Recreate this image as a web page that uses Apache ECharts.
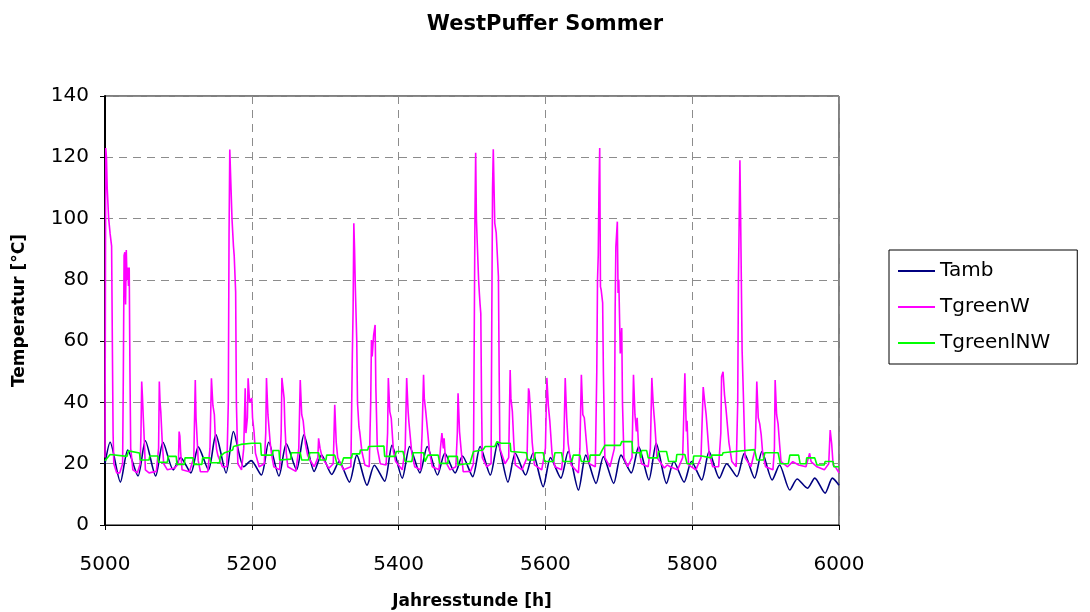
<!DOCTYPE html>
<html><head><meta charset="utf-8">
<script src="https://cdn.jsdelivr.net/npm/echarts@6/dist/echarts.min.js"></script>
<style>html,body{margin:0;padding:0;background:#fff}#c{width:1090px;height:612px}</style>
</head><body><div id="c"></div>
<script>
const titleText = 'WestPuffer Sommer';
const xName = 'Jahresstunde [h]';
const yName = 'Temperatur [°C]';
const seriesNames = ['Tamb', 'TgreenW', 'TgreenlNW'];
const xMin = 5000, xMax = 6000, xStep = 200;
const yMin = 0, yMax = 140, yStep = 20;

// [Jahresstunde, °C]
const tamb = [[5000,20],[5007,27],[5021,14],[5031,24.5],[5045,16],[5055,27.5],[5069,16],[5079,27],[5093,18],[5103,22],[5117,17],[5127,25.5],[5141,18],[5151,29.5],[5165,17],[5175,30.5],[5189,19],[5199,21],[5213,16.3],[5223,27],[5237,16],[5247,26.5],[5261,18],[5271,29.4],[5285,17.5],[5295,22.8],[5309,16.5],[5319,20.7],[5333,14],[5343,22.8],[5357,13],[5367,19.5],[5381,14.3],[5391,26],[5405,15.3],[5415,25.6],[5429,17],[5439,25.6],[5453,16.3],[5463,23.4],[5477,17],[5487,22.5],[5501,15.8],[5511,25.6],[5525,16.3],[5535,26.7],[5549,14],[5559,23.4],[5573,16.3],[5583,23.4],[5597,12.5],[5607,22],[5621,15.3],[5631,24],[5645,11.4],[5655,22.8],[5669,13.6],[5679,22.3],[5693,13.6],[5703,22.8],[5717,17],[5727,25.6],[5741,14.7],[5751,26.7],[5765,13.6],[5775,20.7],[5789,14],[5799,20.7],[5813,14.7],[5823,24],[5837,15.3],[5847,20],[5861,15.8],[5871,23.4],[5885,15.3],[5895,24],[5909,14.7],[5919,19.6],[5933,11.4],[5943,15],[5957,12],[5967,15.3],[5981,10.4],[5991,15.3],[6000,13]];

const tgreenW = [[5000,22],[5001,123],[5002,120],[5003,110],[5005,100],[5007,95],[5009,91],[5010,60],[5011,30],[5012,20],[5016,17],[5020,17],[5024,20],
[5025,50],[5026,88],[5027,89],[5028,72],[5029,89.7],[5030,80],[5031,84],[5032,78],[5033,84],[5034,50],[5035,25],[5038,18],[5044,17],[5048,20],
[5049,30],[5050,46.8],[5051,42],[5052,36],[5054,25],[5055,18],[5060,17],[5070,17.5],[5073,25],
[5074,46.8],[5075,40],[5076,37],[5077,32],[5078,27],[5080,20],[5085,18],[5095,18.6],[5100,20],
[5101,30.5],[5102,29],[5103,24],[5105,18],[5115,17.4],[5121,22],
[5123,47.3],[5124,35],[5125,30.5],[5127,21],[5130,17.4],[5140,17.4],[5143,25],
[5145,47.9],[5147,39],[5149,36],[5150,30],[5152,24.7],[5154,22.5],[5160,19],[5166,19],[5168,40],
[5169,95],[5170,122.5],[5171,122],[5173,100],[5175,91],[5176,88],[5178,76],[5179,40],[5181,20],[5186,18],[5189,25],
[5191,44.6],[5192,30],[5194,35],[5195,47.9],[5197,40],[5200,41.4],[5201,35],[5203,30.5],[5205,23.4],[5210,19],[5217,20],[5219,30],
[5220,48],[5222,36],[5224,30],[5225,27],[5227,23],[5230,19],[5238,18],[5240,30],
[5241,48],[5243,48.4],[5244,41.4],[5245,33],[5247,23.4],[5249,19],[5260,17.5],[5264,25],
[5266,47.3],[5268,36],[5270,34],[5273,26.6],[5276,22.8],[5278,21.7],[5285,19],[5290,22],
[5291,28.3],[5293,25],[5296,22],[5305,18.5],[5311,20],
[5313,39.2],[5315,27],[5317,22],[5325,18],[5335,19],[5337,56],
[5338,70],[5339,98.5],[5340,90],[5341,78],[5342,77.8],[5343,60],[5344,40],[5346,32],[5347,30.5],[5350,24],[5354,19.6],[5360,19],[5362,40],
[5363,60.4],[5364,55],[5366,62],[5368,65.3],[5369,45],[5371,25],[5375,20],[5383,19.6],[5385,30],
[5386,48],[5388,37],[5390,34.8],[5393,24],[5396,20.7],[5405,18],[5409,25],
[5411,48],[5413,37],[5414,33.7],[5418,23.4],[5422,19],[5430,18],[5432,30],
[5434,49],[5435,41.4],[5437,37],[5440,29.4],[5442,24],[5446,19],[5455,18],[5457,25],
[5459,30],[5461,25],[5462,28.3],[5464,20.7],[5470,18],[5478,19],[5480,30],
[5481,43],[5483,30.5],[5485,25],[5488,17.4],[5498,17.5],[5502,20],[5503,60],
[5504,100],[5505,121.5],[5506,100],[5507,93],[5509,80],[5510,75.7],[5511,72],[5512,69],[5513,40],[5514,22],[5520,19],[5526,20],[5527,70],
[5528,110],[5529,122.6],[5531,98.5],[5533,95.3],[5536,81],[5537,50],[5538,25],[5545,20],[5550,22],
[5552,50.6],[5553,41.4],[5555,37],[5557,26.6],[5559,19.6],[5568,18],[5575,22],
[5577,44.6],[5578,43.5],[5580,36],[5582,27],[5585,19.6],[5595,18],[5600,25],
[5602,48],[5604,39],[5606,34],[5609,23.4],[5613,19],[5622,18],[5625,25],
[5627,48],[5629,35],[5631,26.6],[5635,19.6],[5645,17],[5647,25],
[5649,49],[5651,36],[5653,35],[5657,24],[5660,20],[5668,19],[5670,50],
[5671,80],[5672,88],[5673,110],[5674,123],[5675,77.8],[5676,76.7],[5678,72.5],[5679,50],[5681,22],[5688,19],[5694,25],
[5695,70],[5696,90.8],[5698,99],[5699,75.7],[5700,80],[5702,56],[5704,64.3],[5705,40],[5707,22],[5712,19],[5718,22],
[5720,49],[5722,36],[5724,30.5],[5725,35],[5727,25],[5731,20],[5740,19],[5743,25],
[5745,48],[5747,39],[5749,33],[5752,22],[5762,18.6],[5766,19.6],[5770,19],[5780,18],[5787,22],
[5790,49.5],[5792,30.5],[5793,34],[5795,19.6],[5805,18],[5812,22],
[5815,45],[5817,40.3],[5819,36],[5823,23.4],[5828,19],[5836,19],[5839,30],
[5840,48.4],[5842,50],[5844,42.5],[5846,38],[5850,27],[5854,20.7],[5860,19],[5862,40],
[5863,80],[5865,119],[5866,100],[5868,57],[5870,40],[5872,22],[5880,19],[5886,25],
[5888,46.8],[5890,35],[5892,33],[5894,29.4],[5896,23.4],[5900,19],[5910,18],[5912,25],
[5913,47.3],[5915,36],[5917,33],[5919,26.6],[5921,20.7],[5930,19],[5937,20.7],[5945,19.6],[5955,19],
[5960,23.4],[5962,20.7],[5970,19],[5980,18],[5986,20],
[5988,31],[5990,26.6],[5992,19.6],[5996,18.6],[6000,17]];

const tgreenlNW = [[5000,21],[5007,23],[5030,22.4],[5032,24.2],[5047,23.5],[5048,21.2],[5060,21.2],[5061,22.5],[5072,22.5],[5073,20.5],[5085,20.5],[5086,22.4],[5097,22.4],[5098,19.8],[5108,19.8],[5109,21.9],[5120,21.9],
[5121,19.8],[5132,19.8],[5133,21.9],[5143,21.9],[5144,20.3],[5156,20.3],[5157,22.4],[5163,23.6],[5174,24.5],[5175,25.6],[5185,26.3],[5200,26.7],[5212,26.7],[5213,22.8],[5228,22.8],[5229,24.3],[5237,24.3],[5238,21.2],
[5253,21.5],[5254,23.6],[5266,23.6],[5268,21.2],[5277,21.2],[5279,23.6],[5291,23.6],[5293,21.2],[5301,21.2],[5302,22.8],[5313,22.8],[5316,20],[5322,19.6],[5325,21.9],[5336,21.9],[5337,23.2],[5347,23.2],[5348,24.5],[5358,24.5],[5359,25.6],
[5380,25.8],[5381,22.4],[5395,22.4],[5397,24],[5406,24],[5409,20.7],[5418,20.7],[5420,23.6],[5434,23.6],[5436,20.7],[5440,22.8],[5454,22.8],[5456,20.1],[5467,20.1],[5468,22.4],[5480,22.4],[5481,19.6],[5492,20],
[5497,20],[5502,24],[5515,24.5],[5518,25.6],[5531,25.6],[5534,27.2],[5540,26.7],[5552,26.7],[5553,24],[5574,23.6],[5576,21.2],[5585,21.2],[5586,23.6],[5597,23.6],[5599,20.7],[5611,20.7],
[5613,23.6],[5622,23.6],[5624,20.7],[5636,20.7],[5638,22.8],[5647,22.8],[5649,20.7],[5660,20.7],[5661,22.8],[5674,22.8],[5677,24.3],[5681,26],[5702,26],[5704,27.2],[5718,27.2],[5719,23.6],[5729,23.6],[5730,21.9],[5731,24.3],
[5738,24.3],[5740,21.9],[5753,21.9],[5754,24],[5765,24],[5768,20.7],[5778,20.7],[5779,23],[5790,23],[5793,20],[5801,20],[5802,22.5],[5813,22.5],[5815,21.9],[5826,21.9],[5827,22.8],[5841,22.8],[5842,23.6],[5858,24],
[5858,24.3],[5885,24.6],[5888,21.2],[5897,21.2],[5899,23.6],[5917,23.6],[5920,20],[5931,20],[5933,22.8],[5945,22.8],[5947,20],[5955,20],[5956,21.9],[5967,21.9],[5970,19.6],[5980,19.6],[5981,20.7],[5992,20.7],[5993,19],[6000,19]];

const colors = ['#000080', '#ff00ff', '#00ff00'];
const FONT = "'DejaVu Sans', 'Liberation Sans', sans-serif";

const chart = echarts.init(document.getElementById('c'), null, {renderer: 'canvas'});
const dashed = {color: '#8c8c8c', width: 1, type: [8, 6]};
chart.setOption({
  animation: false,
  backgroundColor: '#fff',
  title: {text: titleText, left: 'center', top: 9,
    textStyle: {fontFamily: FONT, fontSize: 21, fontWeight: 'bold', color: '#000'}},
  grid: {left: 105, right: 251, top: 96, bottom: 87, show: true, borderColor: '#000', borderWidth: 1,
    containLabel: false, outerBoundsMode: 'none'},
  legend: {
    orient: 'vertical', left: 889, top: 250,
    data: seriesNames,
    icon: 'rect',
    itemWidth: 37, itemHeight: 2, itemGap: 14,
    padding: [10, 27, 10, 9],
    borderColor: '#000', borderWidth: 1,
    textStyle: {fontFamily: FONT, fontSize: 20, color: '#000', lineHeight: 22}
  },
  xAxis: {
    type: 'value', min: xMin, max: xMax, interval: xStep,
    name: xName, nameLocation: 'middle', nameGap: 68, nameMoveOverlap: false,
    nameTextStyle: {fontFamily: FONT, fontSize: 17, fontWeight: 'bold', color: '#000'},
    axisLine: {lineStyle: {color: '#000', width: 1}},
    axisTick: {show: true, length: 5, lineStyle: {color: '#000'}},
    axisLabel: {fontFamily: FONT, fontSize: 20, color: '#000', margin: 30, formatter: v => String(v)},
    splitLine: {show: true, lineStyle: dashed}
  },
  yAxis: {
    type: 'value', min: yMin, max: yMax, interval: yStep,
    name: yName, nameLocation: 'middle', nameGap: 77, nameRotate: 90, nameMoveOverlap: false,
    nameTextStyle: {fontFamily: FONT, fontSize: 17, fontWeight: 'bold', color: '#000'},
    axisLine: {show: true, lineStyle: {color: '#000', width: 2}},
    axisTick: {show: true, length: 5, lineStyle: {color: '#000'}},
    axisLabel: {fontFamily: FONT, fontSize: 20, color: '#000', margin: 16, formatter: v => String(v)},
    splitLine: {show: true, lineStyle: dashed}
  },
  series: [
    {name: seriesNames[0], type: 'line', data: tamb, symbol: 'none', smooth: 0.25,
      lineStyle: {color: colors[0], width: 1.6}, itemStyle: {color: colors[0]}},
    {name: seriesNames[1], type: 'line', data: tgreenW, symbol: 'none',
      lineStyle: {color: colors[1], width: 1.6}, itemStyle: {color: colors[1]}},
    {name: seriesNames[2], type: 'line', data: tgreenlNW, symbol: 'none',
      lineStyle: {color: colors[2], width: 1.6}, itemStyle: {color: colors[2]}}
  ]
});
</script></body></html>
